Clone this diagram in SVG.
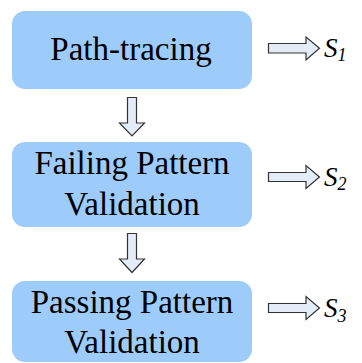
<svg xmlns="http://www.w3.org/2000/svg" width="362" height="363" viewBox="0 0 362 363">
  <defs>
    <style>
      .box { fill: #9DCCFB; }
      .label { font-family: "Liberation Serif", "Times New Roman", serif; font-size: 33px; fill: #000; text-anchor: middle; }
      .arrow { fill: #E4ECF7; stroke: #333; stroke-width: 1.2; stroke-linejoin: miter; }
      .sym { font-family: "Liberation Serif", "Times New Roman", serif; font-style: italic; font-size: 27px; fill: #000; }
      .sub { font-size: 18px; }
    </style>
  </defs>

  <g id="node-path-tracing">
    <rect class="box" x="12" y="11" width="240" height="78" rx="13" ry="13"/>
    <text class="label" x="131" y="60">Path-tracing</text>
  </g>

  <g id="node-failing-pattern">
    <rect class="box" x="12" y="142" width="240" height="85" rx="13" ry="13"/>
    <text class="label" x="132" y="174">Failing Pattern</text>
    <text class="label" x="132" y="215">Validation</text>
  </g>

  <g id="node-passing-pattern">
    <rect class="box" x="12" y="281" width="240" height="81" rx="13" ry="13"/>
    <text class="label" x="132" y="313">Passing Pattern</text>
    <text class="label" x="132" y="353">Validation</text>
  </g>

  <g id="connectors">
    <!-- block arrows between stages -->
    <path class="arrow" d="M127.5,97.5 H136.5 V123 H144.5 L132,136 L119.5,123 H127.5 Z"/>
    <path class="arrow" d="M127.5,233.5 H136.5 V259 H144.5 L132,272.5 L119.5,259 H127.5 Z"/>
    <!-- block arrows to outputs -->
    <path class="arrow" d="M268.5,43.5 V53 H306 V60 L319.5,48.3 L306,37 V43.5 Z"/>
    <path class="arrow" d="M268.5,172.5 V181.5 H306 V188.5 L319.5,177 L306,165.5 V172.5 Z"/>
    <path class="arrow" d="M268.5,303.5 V312.5 H306 V319.5 L319.5,308 L306,296.5 V303.5 Z"/>
  </g>

  <g id="outputs">
    <text class="sym" x="324" y="57">S<tspan class="sub" dy="4">1</tspan></text>
    <text class="sym" x="324" y="186">S<tspan class="sub" dy="4">2</tspan></text>
    <text class="sym" x="324" y="317">S<tspan class="sub" dy="5">3</tspan></text>
  </g>
</svg>
